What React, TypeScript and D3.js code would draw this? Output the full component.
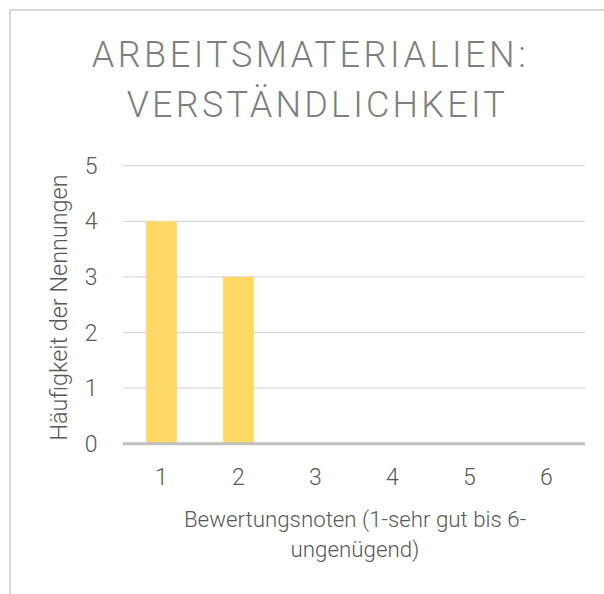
import React from "react";
import * as d3 from "d3";

const categories = ["1", "2", "3", "4", "5", "6"];
const values = [4, 3, 0, 0, 0, 0];
const yTicks = [0, 1, 2, 3, 4, 5];
const titleLines = ["ARBEITSMATERIALIEN:", "VERSTÄNDLICHKEIT"];
const xTitleLines = ["Bewertungsnoten (1-sehr gut bis 6-", "ungenügend)"];
const yTitle = "Häufigkeit der Nennungen";

const FONT = "Roboto, 'Open Sans', sans-serif";

export default function App() {
  const W = 604;
  const H = 594;
  const x = d3
    .scaleBand<string>()
    .domain(categories)
    .range([123, 585])
    .paddingInner(0.6)
    .paddingOuter(0.3);
  const y = d3.scaleLinear().domain([0, 5]).range([443.7, 165.7]);

  return (
    <svg
      width={W}
      height={H}
      style={{ position: "absolute", left: 0, top: 0, background: "#fff" }}
    >
      <rect x={10} y={10} width={700} height={700} fill="#fff" stroke="#d9d9d9" strokeWidth={2} />
      {/* title */}
      <text
        x={91.7}
        y={67.3}
        fontFamily={FONT}
        fontWeight={300}
        fontSize={36}
        fill="#7f7f7f"
        textLength={434}
        lengthAdjust="spacing"
      >
        {titleLines[0]}
      </text>
      <text
        x={126.7}
        y={117.3}
        fontFamily={FONT}
        fontWeight={300}
        fontSize={36}
        fill="#7f7f7f"
        textLength={378}
        lengthAdjust="spacing"
      >
        {titleLines[1]}
      </text>
      {/* gridlines */}
      {yTicks.slice(1).map((t) => (
        <line
          key={t}
          x1={123}
          x2={585}
          y1={y(t)}
          y2={y(t)}
          stroke="#d9d9d9"
          strokeWidth={1.3}
        />
      ))}
      {/* bars */}
      {categories.map((c, i) => (
        <rect
          key={c}
          x={x(c)}
          y={y(values[i])}
          width={x.bandwidth()}
          height={y(0) - y(values[i])}
          fill="#ffd966"
        />
      ))}
      {/* axis line */}
      <line x1={123} x2={585} y1={y(0)} y2={y(0)} stroke="#bfbfbf" strokeWidth={3} />
      {/* y tick labels */}
      {yTicks.map((t) => (
        <text
          key={t}
          x={97.5}
          y={y(t) + 8}
          textAnchor="end"
          fontFamily={FONT}
          fontWeight={300}
          fontSize={23}
          fill="#595959"
        >
          {t}
        </text>
      ))}
      {/* x tick labels */}
      {categories.map((c) => (
        <text
          key={c}
          x={(x(c) as number) + x.bandwidth() / 2}
          y={485}
          textAnchor="middle"
          fontFamily={FONT}
          fontWeight={300}
          fontSize={23}
          fill="#595959"
        >
          {c}
        </text>
      ))}
      {/* x title */}
      {xTitleLines.map((l, i) => (
        <text
          key={i}
          x={355}
          y={526.5 + i * 30}
          textAnchor="middle"
          fontFamily={FONT}
          fontWeight={300}
          fontSize={22.3}
          fill="#595959"
        >
          {l}
        </text>
      ))}
      {/* y title */}
      <text
        transform="translate(67,307.5) rotate(-90)"
        textAnchor="middle"
        fontFamily={FONT}
        fontWeight={300}
        fontSize={23.4}
        fill="#595959"
      >
        {yTitle}
      </text>
    </svg>
  );
}
